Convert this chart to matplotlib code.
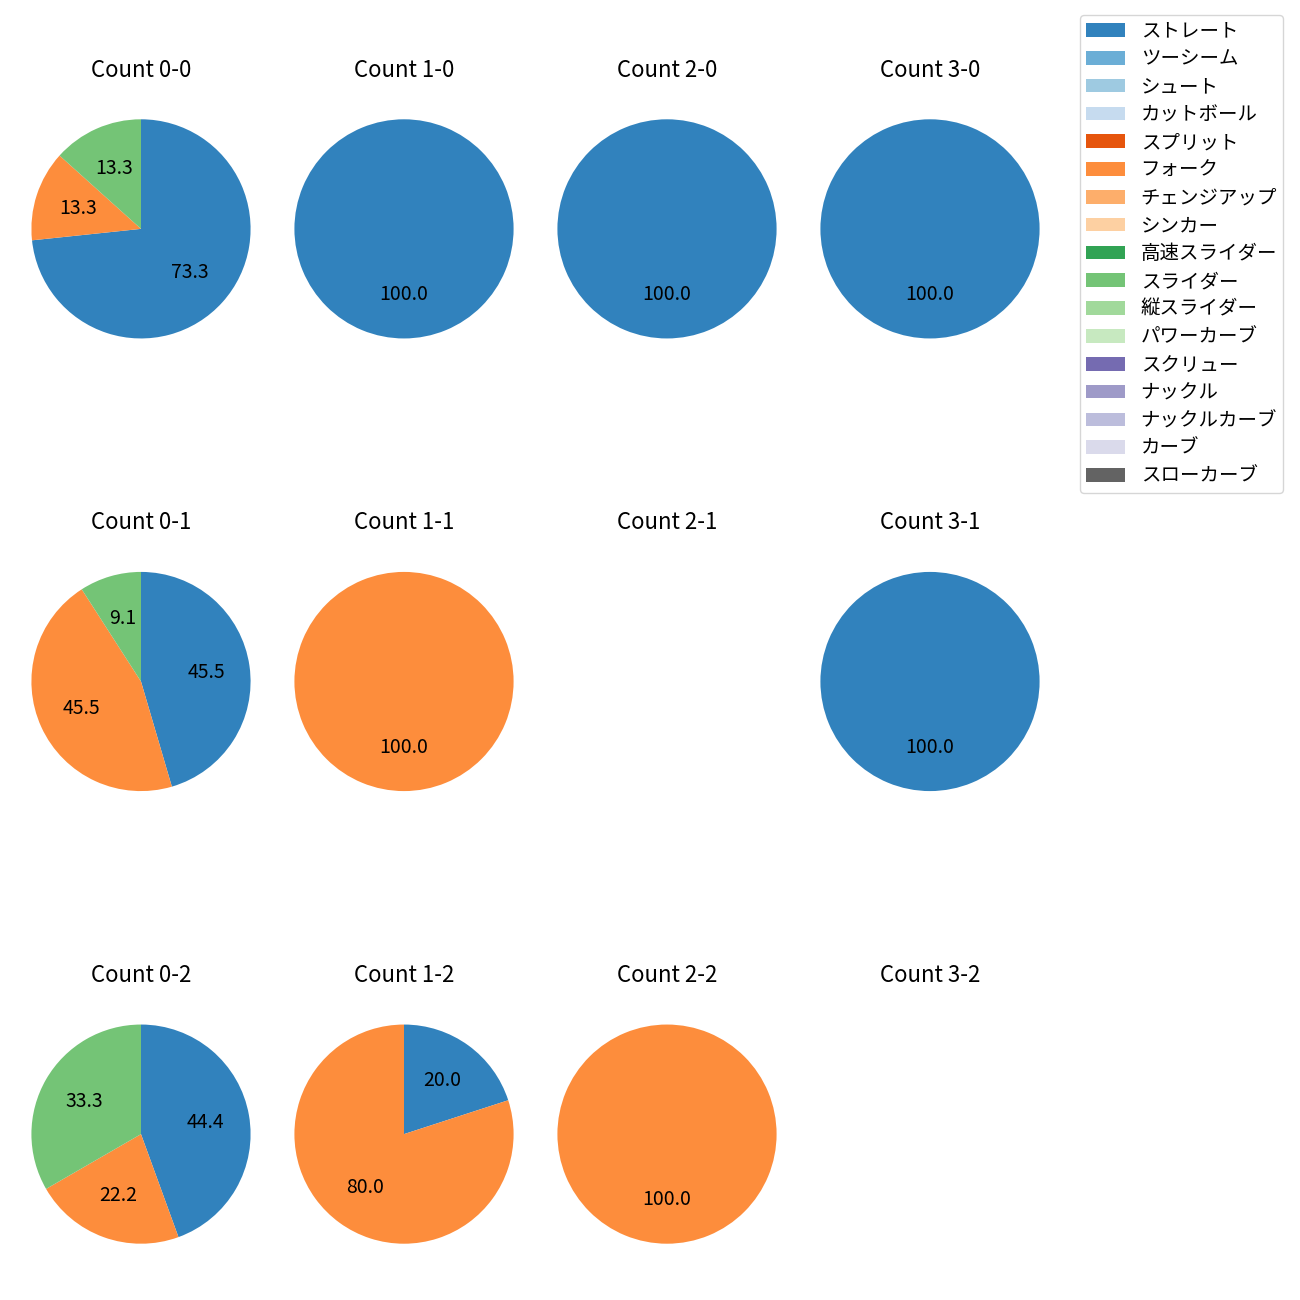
import matplotlib
matplotlib.use("Agg")
import matplotlib.pyplot as plt
from matplotlib.patches import Patch

plt.rcParams['font.family'] = ['Noto Sans CJK JP', 'DejaVu Sans']
plt.rcParams['font.size'] = 13

pitch_types = ["ストレート", "ツーシーム", "シュート", "カットボール", "スプリット", "フォーク",
               "チェンジアップ", "シンカー", "高速スライダー", "スライダー", "縦スライダー",
               "パワーカーブ", "スクリュー", "ナックル", "ナックルカーブ", "カーブ", "スローカーブ"]

balls = [0, 1, 2, 3]
strikes = [0, 1, 2]

# counts per (balls, strikes): dict pitch -> count
counts = {
    (0, 0): {"ストレート": 11, "フォーク": 2, "スライダー": 2},
    (1, 0): {"ストレート": 1},
    (2, 0): {"ストレート": 1},
    (3, 0): {"ストレート": 1},
    (0, 1): {"ストレート": 5, "フォーク": 5, "スライダー": 1},
    (1, 1): {"フォーク": 1},
    (2, 1): {},
    (3, 1): {"ストレート": 1},
    (0, 2): {"ストレート": 4, "フォーク": 2, "スライダー": 3},
    (1, 2): {"ストレート": 1, "フォーク": 4},
    (2, 2): {"フォーク": 1},
    (3, 2): {},
}

cmap = plt.get_cmap('tab20c')
colors = {p: cmap(i) for i, p in enumerate(pitch_types)}

fig, axes = plt.subplots(3, 4, figsize=(13, 13), dpi=100)
fig.subplots_adjust(left=9.5/1300, right=1061.5/1300, top=(1071+150)/1300,
                    bottom=(166-150)/1300, wspace=0, hspace=153/300)

for r, s in enumerate(strikes):
    for c, b in enumerate(balls):
        ax = axes[r, c]
        d = counts[(b, s)]
        labels = [p for p in pitch_types if d.get(p, 0) > 0]
        vals = [d[p] for p in labels]
        if vals:
            ax.pie(vals, colors=[colors[p] for p in labels], startangle=90,
                   counterclock=False, autopct='%.1f', pctdistance=0.6,
                   textprops={'fontsize': 14})
        ax.set_xlim(-1.2, 1.2)
        ax.set_ylim(-1.2, 1.2)
        ax.set_aspect('equal')
        ax.axis('off')
        ax.set_title(f"Count {b}-{s}", fontsize=16, pad=15)

handles = [Patch(facecolor=colors[p], label=p) for p in pitch_types]
fig.legend(handles=handles, loc='upper right', bbox_to_anchor=(1283/1300, 1 - 15/1300),
           borderaxespad=0, fontsize=14, labelspacing=0.35, borderpad=0.3)

fig.savefig("out.png", dpi=100)
